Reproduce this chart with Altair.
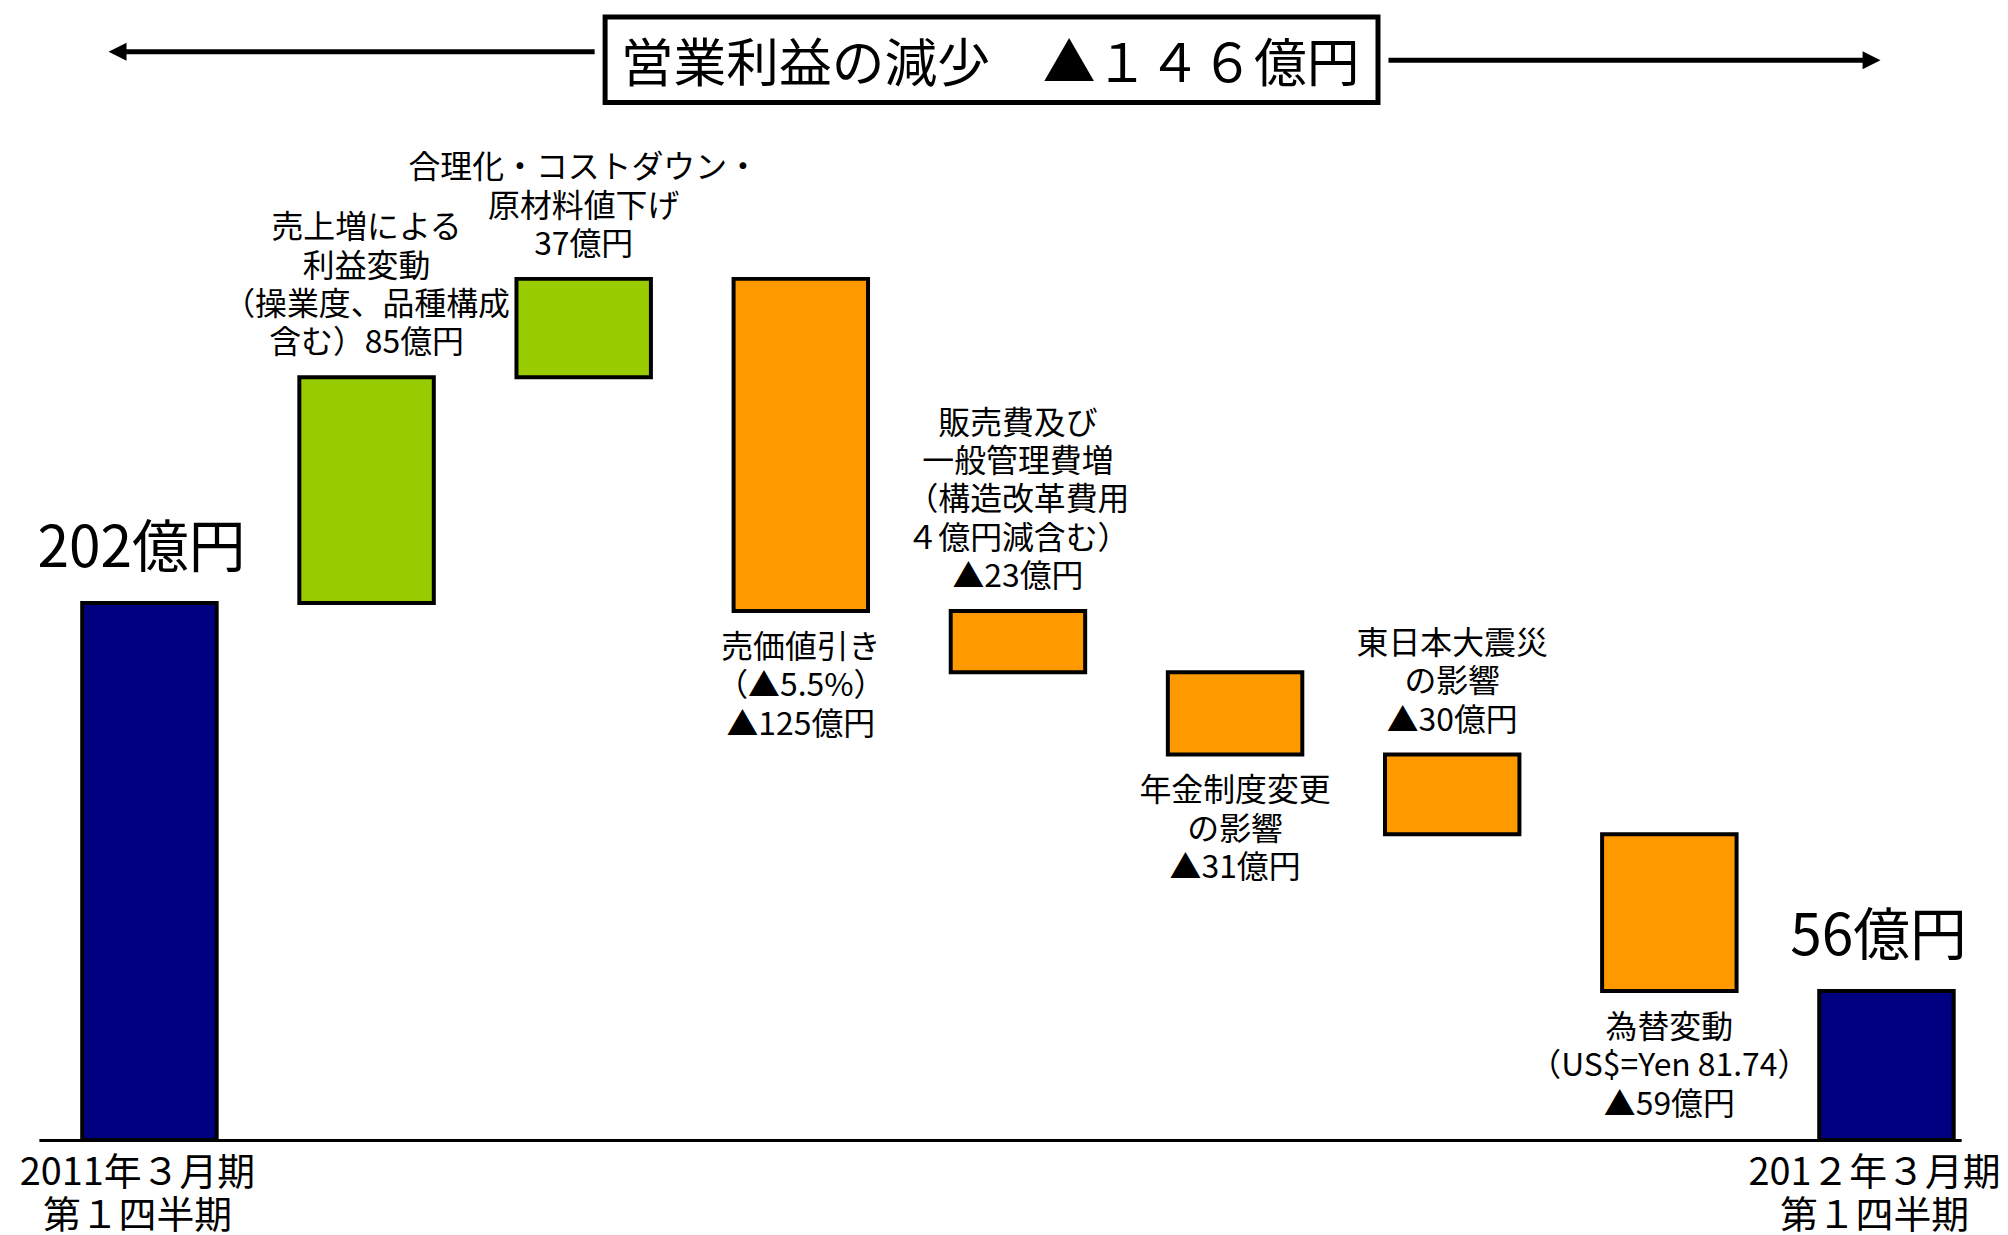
import altair as alt
import pandas as pd

FONT = "Noto Sans CJK JP"

# ---------------- data ----------------
steps = ["start", "sales", "cost", "price", "sga", "pension", "quake", "fx", "end"]
kinds = ["total", "increase", "increase", "decrease", "decrease",
         "decrease", "decrease", "decrease", "total"]
amounts = [202, 85, 37, -125, -23, -31, -30, -59, 56]
step_labels = [
    "",
    "売上増による\n利益変動\n（操業度、品種構成\n含む）85億円",
    "合理化・コストダウン・\n原材料値下げ\n37億円",
    "売価値引き\n（▲5.5%）\n▲125億円",
    "販売費及び\n一般管理費増\n（構造改革費用\n４億円減含む）\n▲23億円",
    "年金制度変更\nの影響\n▲31億円",
    "東日本大震災\nの影響\n▲30億円",
    "為替変動\n（US$=Yen 81.74）\n▲59億円",
    "",
]
total_labels = ["202億円", "", "", "", "", "", "", "", "56億円"]
period_labels = ["2011年３月期\n第１四半期", "", "", "", "", "", "", "",
                 "201２年３月期\n第１四半期"]
title_text = "営業利益の減少　▲１４６億円"

# label placement (layout, not data)
below_steps = {"price", "pension", "fx"}

# ---------------- waterfall extents ----------------
rows = []
running = 0
for s, k, a, lab, tl, pl in zip(steps, kinds, amounts, step_labels,
                                total_labels, period_labels):
    if k == "total":
        lo, hi = 0, a
        running = a
    else:
        new = running + a
        lo, hi = min(running, new), max(running, new)
        running = new
    rows.append({"step": s, "kind": k, "lo": lo, "hi": hi, "label": lab,
                 "total_label": tl, "period": pl,
                 "side": "below" if s in below_steps else "above"})
df = pd.DataFrame(rows)

W, H = 1930, 1134
YMAX = 425
PXU = H / YMAX          # pixels per data unit
LH = 38.5               # line height of step labels

xscale = alt.Scale(paddingInner=0.380734, paddingOuter=0.116972,
                   align=0.853, round=False)
yscale = alt.Scale(domain=[0, YMAX], nice=False, zero=True)

X = alt.X("step:N", sort=steps, scale=xscale,
          axis=alt.Axis(domain=True, domainColor="black", domainWidth=3,
                        ticks=False, labels=False, title=None, grid=False))

base = alt.Chart(df)

bars = base.mark_bar(stroke="black", strokeWidth=4).encode(
    x=X,
    y=alt.Y("lo:Q", scale=yscale, axis=None),
    y2="hi:Q",
    color=alt.Color("kind:N",
                    scale=alt.Scale(domain=["total", "increase", "decrease"],
                                    range=["#000080", "#99CC00", "#FF9900"]),
                    legend=None),
)

txt = dict(font=FONT, color="black", align="center", lineBreak="\n")

# above-bar labels: lift the block so that its last line sits just above the bar
above = base.transform_filter(
    "datum.kind != 'total' && datum.side == 'above'"
).transform_calculate(
    nl="length(split(datum.label, '\\n'))"
).transform_calculate(
    ly=f"datum.hi + (datum.nl - 1) * {LH} / {PXU}"
).mark_text(baseline="bottom", dy=-17, fontSize=32, lineHeight=LH, **txt).encode(
    x=X, y=alt.Y("ly:Q", scale=yscale), text="label:N")

below = base.transform_filter(
    "datum.kind != 'total' && datum.side == 'below'"
).mark_text(baseline="top", dy=22, fontSize=32, lineHeight=LH, **txt).encode(
    x=X, y=alt.Y("lo:Q", scale=yscale), text="label:N")

totals = base.transform_filter("datum.kind == 'total'").mark_text(
    baseline="bottom", dy=-24, dx=-8, fontSize=57, **txt).encode(
    x=X, y=alt.Y("hi:Q", scale=yscale), text="total_label:N")

periods = base.transform_filter("datum.kind == 'total'").mark_text(
    baseline="top", dy=15, dx=-12, fontSize=38, lineHeight=43, **txt).encode(
    x=X, y=alt.Y("lo:Q", scale=yscale), text="period:N")

one = alt.Chart(pd.DataFrame({"t": [title_text]}))

title_box = one.mark_rect(fill="white", stroke="black", strokeWidth=5).encode(
    x=alt.value(568.5), x2=alt.value(1344.5), y=alt.value(6.5), y2=alt.value(92.5))
title_txt = one.mark_text(font=FONT, fontSize=53, baseline="middle",
                          align="center", color="black").encode(
    x=alt.value(955), y=alt.value(56), text="t:N")

left_line = one.mark_rule(color="black", strokeWidth=5).encode(
    x=alt.value(79), x2=alt.value(558), y=alt.value(41.5))
right_line = one.mark_rule(color="black", strokeWidth=5).encode(
    x=alt.value(1355), x2=alt.value(1840), y=alt.value(50))
left_head = one.mark_point(shape="M1,-1L-1,0L1,1Z", size=324, filled=True,
                           color="black", opacity=1).encode(
    x=alt.value(79), y=alt.value(41.5))
right_head = one.mark_point(shape="M-1,-1L1,0L-1,1Z", size=324, filled=True,
                            color="black", opacity=1).encode(
    x=alt.value(1840), y=alt.value(50))

chart = alt.layer(
    bars, above, below, totals, periods,
    left_line, right_line, left_head, right_head, title_box, title_txt,
).properties(
    width=W, height=H,
    padding={"left": 31, "top": 0, "right": 39, "bottom": 93},
    autosize=alt.AutoSizeParams(type="none"),
    background="white",
).configure_view(stroke=None).configure_text(font=FONT)

chart.save("out.html", embed_options={"renderer": "svg", "actions": False})
